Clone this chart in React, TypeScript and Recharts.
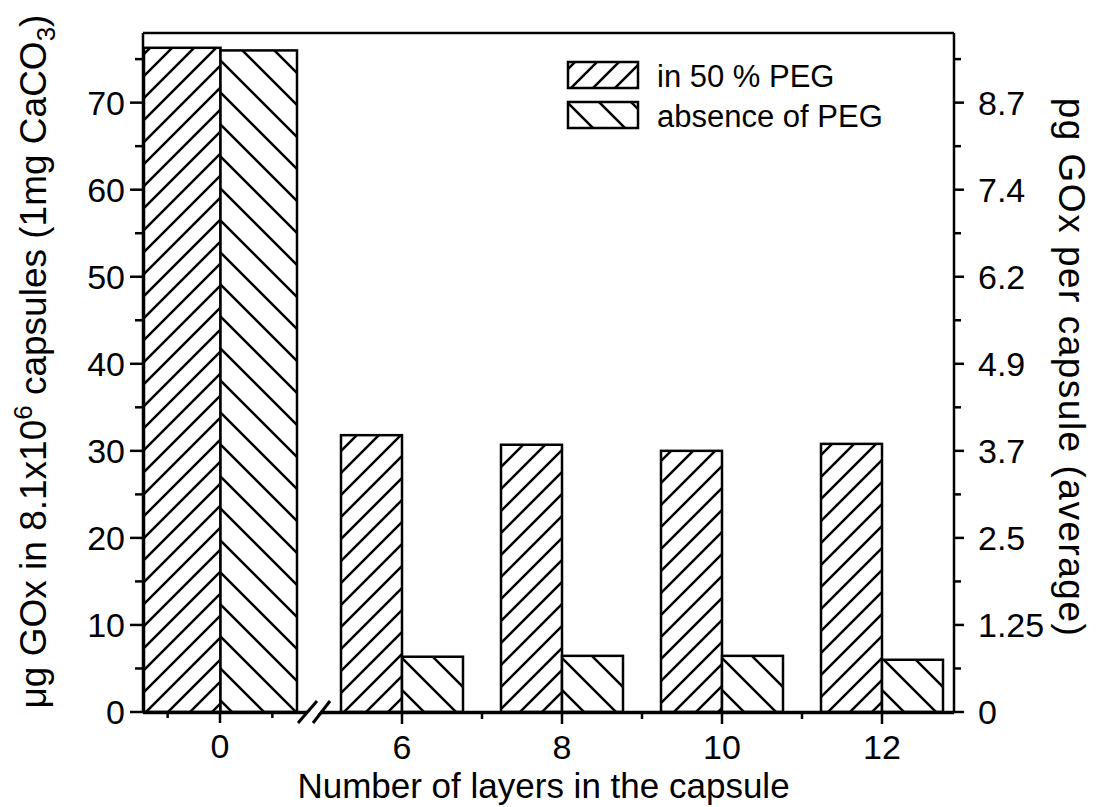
import React from 'react';
import { BarChart, Bar, XAxis, YAxis, Legend } from 'recharts';

// ---------- data ----------
const layers = ['0', '6', '8', '10', '12'];
const withPeg = [76.3, 31.8, 30.7, 30.0, 30.8];
const withoutPeg = [76.0, 6.35, 6.45, 6.45, 6.0];
const seriesNames = ['in 50 % PEG', 'absence of PEG'];
const yTicks = [0, 5, 10, 15, 20, 25, 30, 35, 40, 45, 50, 55, 60, 65, 70, 75];
const leftMajorLabels = ['0', '10', '20', '30', '40', '50', '60', '70'];
const rightMajorLabels = ['0', '1.25', '2.5', '3.7', '4.9', '6.2', '7.4', '8.7'];
const yDomain = [0, 78];
const xTitle = 'Number of layers in the capsule';
const rightTitle = 'pg GOx per capsule (average)';

const FONT = '"Liberation Sans", Arial, Helvetica, sans-serif';
const AXIS = { stroke: '#000', strokeWidth: 2.5 };
const TICK_FONT = 34;

// first group ("0") sits on its own axis segment before the break
const data = layers.map((layer, i) => ({
  layer,
  pegFirst: i === 0 ? withPeg[i] : null,
  noPegFirst: i === 0 ? withoutPeg[i] : null,
  peg: i > 0 ? withPeg[i] : null,
  noPeg: i > 0 ? withoutPeg[i] : null,
}));

const X_TICK = 11;
const X_MARGIN = 11;

const HatchedBar = (props: any) => {
  const { x, y, width, height, fill } = props;
  if (!(height > 0.5) || !isFinite(y)) return <g />;
  return <rect x={x} y={y} width={width} height={height} fill={fill} stroke="#000" strokeWidth={2.5} />;
};

const LeftTick = (props: any) => {
  const { x, y, payload } = props;
  const v = payload.value;
  const major = v % 10 === 0;
  const axisX = x + 5 + 13;
  return (
    <g>
      <line x1={axisX - (major ? 13 : 8)} x2={axisX} y1={y} y2={y} stroke="#000" strokeWidth={2.5} />
      {major && (
        <text x={x} y={y} dy="0.36em" textAnchor="end" fontSize={TICK_FONT} fontFamily={FONT} fill="#000">
          {leftMajorLabels[v / 10]}
        </text>
      )}
    </g>
  );
};

const RightTick = (props: any) => {
  const { x, y, payload } = props;
  const v = payload.value;
  const major = v % 10 === 0;
  const axisX = x - 14 - 10;
  return (
    <g>
      <line x1={axisX} x2={axisX + (major ? 10 : 7)} y1={y} y2={y} stroke="#000" strokeWidth={2.5} />
      {major && (
        <text x={x} y={y} dy="0.36em" textAnchor="start" fontSize={TICK_FONT} fontFamily={FONT} fill="#000">
          {rightMajorLabels[v / 10]}
        </text>
      )}
    </g>
  );
};

const FirstXTick = (props: any) => {
  const { x, y, payload, index } = props;
  if (index !== 0) return <g />;
  const axisY = y - X_TICK - X_MARGIN;
  const half = payload.offset || 0;
  return (
    <g>
      <line x1={x} x2={x} y1={axisY} y2={axisY + X_TICK} stroke="#000" strokeWidth={2.5} />
      <line x1={x - half * 0.68} x2={x - half * 0.68} y1={axisY} y2={axisY + 6} stroke="#000" strokeWidth={2.5} />
      <line x1={x + half * 0.68} x2={x + half * 0.68} y1={axisY} y2={axisY + 6} stroke="#000" strokeWidth={2.5} />
      <text x={x} y={y} dy="0.7em" textAnchor="middle" fontSize={TICK_FONT} fontFamily={FONT} fill="#000">
        {payload.value}
      </text>
    </g>
  );
};

const MainXTick = (props: any) => {
  const { x, y, payload, index } = props;
  const axisY = y - X_TICK - X_MARGIN;
  const half = payload.offset || 0;
  if (index === 0) {
    const bx = x + half - 8;
    return (
      <g>
        <polygon
          points={`${bx - 14},${axisY + 8} ${bx + 2},${axisY - 10} ${bx + 14},${axisY - 10} ${bx - 2},${axisY + 8}`}
          fill="#fff"
        />
        <line x1={bx - 16} y1={axisY + 10} x2={bx + 3} y2={axisY - 12} stroke="#000" strokeWidth={3} />
        <line x1={bx - 1} y1={axisY + 10} x2={bx + 16} y2={axisY - 12} stroke="#000" strokeWidth={3} />
      </g>
    );
  }
  return (
    <g>
      <line x1={x} x2={x} y1={axisY} y2={axisY + X_TICK} stroke="#000" strokeWidth={2.5} />
      {index < layers.length - 1 && (
        <line x1={x + half} x2={x + half} y1={axisY} y2={axisY + 6} stroke="#000" strokeWidth={2.5} />
      )}
      <text x={x} y={y} dy="0.7em" textAnchor="middle" fontSize={TICK_FONT} fontFamily={FONT} fill="#000">
        {payload.value}
      </text>
    </g>
  );
};

const XTitle = (props: any) => {
  const vb = props.viewBox || {};
  return (
    <text x={vb.x + vb.width / 2 - 5} y={vb.y + 85} textAnchor="middle" fontSize={35} fontFamily={FONT} fill="#000">
      {xTitle}
    </text>
  );
};

const LeftTitle = (props: any) => {
  const vb = props.viewBox || {};
  const cx = vb.x + 46;
  const cy = vb.y + vb.height / 2 - 11;
  return (
    <text x={cx} y={cy} transform={`rotate(-90, ${cx}, ${cy})`} textAnchor="middle" fontSize={37} fontFamily={FONT} fill="#000">
      <tspan>μg GOx in 8.1x10</tspan>
      <tspan dy={-14} fontSize={26}>6</tspan>
      <tspan dy={14}> capsules (1mg CaCO</tspan>
      <tspan dy={9} fontSize={26}>3</tspan>
      <tspan dy={-9}>)</tspan>
    </text>
  );
};

const RightTitle = (props: any) => {
  const vb = props.viewBox || {};
  const cx = vb.x + 105;
  const cy = vb.y + vb.height / 2 - 5;
  return (
    <text
      x={cx}
      y={cy}
      transform={`rotate(90, ${cx}, ${cy})`}
      textAnchor="middle"
      fontSize={37}
      letterSpacing={1.5}
      fontFamily={FONT}
      fill="#000"
    >
      {rightTitle}
    </text>
  );
};

const LegendBox = (props: any) => {
  const payload = (props.payload || []) as any[];
  const items = seriesNames
    .map((name) => payload.find((p) => p.value === name))
    .filter(Boolean) as any[];
  return (
    <svg width={360} height={82} style={{ display: 'block', overflow: 'visible' }}>
      {items.map((it, i) => (
        <g key={i} transform={`translate(0, ${i * 40})`}>
          <rect x={8} y={7} width={70} height={26} fill={it.color} stroke="#000" strokeWidth={2.5} />
          <text x={97} y={32} fontSize={31} fontFamily={FONT} fill="#000">
            {it.value}
          </text>
        </g>
      ))}
    </svg>
  );
};

export default function App() {
  return (
    <div style={{ position: 'absolute', left: 0, top: 0, background: '#fff', width: 1096, height: 807 }}>
      <BarChart
        width={1096}
        height={807}
        data={data}
        margin={{ top: 32, right: 0, bottom: 0, left: 0 }}
        barGap={0}
        style={{ fontFamily: FONT }}
      >
        <defs>
          <pattern id="hatchPeg" patternUnits="userSpaceOnUse" width={22} height={22}>
            <rect width={22} height={22} fill="#fff" />
            <path d="M0,22 L22,0 M-6,6 L6,-6 M16,28 L28,16" stroke="#000" strokeWidth={2.5} />
          </pattern>
          <pattern id="hatchNoPeg" patternUnits="userSpaceOnUse" width={32} height={32}>
            <rect width={32} height={32} fill="#fff" />
            <path d="M0,0 L32,32 M-8,24 L8,40 M24,-8 L40,8" stroke="#000" strokeWidth={2.5} />
          </pattern>
        </defs>
        <XAxis xAxisId="top" orientation="top" dataKey="layer" height={1} tick={false} tickLine={false} axisLine={AXIS} />
        <XAxis
          xAxisId="a_first"
          dataKey="layer"
          height={1}
          padding={{ left: 0, right: 41 }}
          interval={0}
          tickSize={X_TICK}
          tickMargin={X_MARGIN}
          tickLine={false}
          axisLine={AXIS}
          tick={<FirstXTick />}
        />
        <XAxis
          xAxisId="b_main"
          dataKey="layer"
          height={94}
          padding={{ left: 19, right: -8 }}
          interval={0}
          tickSize={X_TICK}
          tickMargin={X_MARGIN}
          tickLine={false}
          axisLine={AXIS}
          tick={<MainXTick />}
          label={(p: any) => <XTitle {...p} />}
        />
        <YAxis
          yAxisId="left"
          width={143}
          domain={yDomain}
          ticks={yTicks}
          interval={0}
          allowDataOverflow
          tickSize={13}
          tickMargin={5}
          tickLine={false}
          axisLine={AXIS}
          tick={<LeftTick />}
          label={(p: any) => <LeftTitle {...p} />}
        />
        <YAxis
          yAxisId="right"
          orientation="right"
          width={142}
          domain={yDomain}
          ticks={yTicks}
          interval={0}
          allowDataOverflow
          tickSize={10}
          tickMargin={14}
          tickLine={false}
          axisLine={AXIS}
          tick={<RightTick />}
          label={(p: any) => <RightTitle {...p} />}
        />
        <Bar xAxisId="a_first" yAxisId="left" dataKey="pegFirst" name={seriesNames[0]} barSize={76.5} fill="url(#hatchPeg)" shape={<HatchedBar />} legendType="none" isAnimationActive={false} />
        <Bar xAxisId="a_first" yAxisId="left" dataKey="noPegFirst" name={seriesNames[1]} barSize={76.5} fill="url(#hatchNoPeg)" shape={<HatchedBar />} legendType="none" isAnimationActive={false} />
        <Bar xAxisId="b_main" yAxisId="left" dataKey="peg" name={seriesNames[0]} barSize={61} fill="url(#hatchPeg)" shape={<HatchedBar />} isAnimationActive={false} />
        <Bar xAxisId="b_main" yAxisId="left" dataKey="noPeg" name={seriesNames[1]} barSize={61} fill="url(#hatchNoPeg)" shape={<HatchedBar />} isAnimationActive={false} />
        <Legend
          content={<LegendBox />}
          layout="horizontal"
          verticalAlign="middle"
          align="center"
          wrapperStyle={{ left: 560, top: 55, width: 360 }}
        />
      </BarChart>
    </div>
  );
}
